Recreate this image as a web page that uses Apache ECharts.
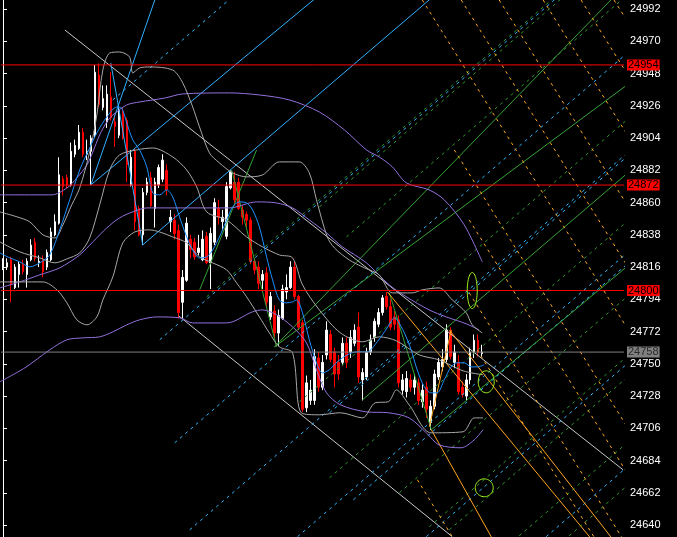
<!DOCTYPE html>
<html><head><meta charset="utf-8">
<script src="https://cdn.jsdelivr.net/npm/echarts@6/dist/echarts.min.js"></script>
<style>html,body{margin:0;padding:0;background:#000;}#c{width:677px;height:537px;}</style>
</head><body><div id="c"></div>
<script>
// ---- price ticks / levels ----
const priceTicks = [24640,24662,24684,24706,24728,24750,24772,24794,24816,24838,24860,24882,24904,24926,24948,24970,24992];
const redLevels = [24954, 24872, 24800];
const bidLevel = 24758;

// ---- candles (open, close, low, high) ----
const opens  = [24816,24816,24821,24802,24811,24818,24811,24821,24833,24819,24821,24816,24821,24838,24846,24876,24877,24872,24893,24897,24908,24893,24895,24906,24947,24925,24915,24932,24915,24906,24922,24916,24872,24895,24856,24838,24867,24877,24856,24872,24876,24882,24847,24848,24841,24792,24807,24835,24833,24826,24821,24837,24819,24833,24856,24847,24837,24870,24874,24874,24855,24852,24848,24820,24816,24807,24812,24782,24786,24771,24781,24799,24802,24816,24796,24778,24720,24725,24725,24754,24734,24756,24770,24758,24751,24751,24764,24758,24764,24775,24739,24741,24758,24768,24777,24785,24796,24789,24782,24780,24732,24731,24739,24734,24737,24724,24734,24710,24721,24741,24748,24753,24772,24751,24751,24734,24728,24739,24758,24766,24757];
const closes = [24820,24819,24804,24816,24818,24813,24820,24831,24822,24820,24813,24826,24840,24847,24879,24871,24872,24895,24899,24908,24893,24895,24904,24949,24927,24931,24934,24918,24912,24923,24904,24886,24891,24847,24838,24867,24874,24858,24874,24884,24889,24869,24850,24839,24785,24809,24846,24828,24823,24829,24835,24819,24839,24860,24850,24850,24871,24881,24862,24856,24850,24848,24820,24814,24805,24811,24792,24796,24771,24783,24801,24802,24816,24796,24775,24719,24737,24732,24755,24734,24751,24773,24753,24743,24743,24764,24751,24768,24773,24741,24744,24758,24766,24779,24785,24795,24789,24775,24777,24737,24739,24740,24734,24739,24725,24732,24719,24721,24743,24751,24753,24773,24755,24758,24731,24729,24739,24758,24766,24758,24758];
const lows   = [24814,24814,24792,24801,24802,24811,24802,24820,24820,24816,24809,24814,24820,24837,24845,24865,24870,24871,24891,24896,24891,24889,24872,24904,24925,24923,24911,24916,24898,24904,24903,24874,24871,24841,24837,24831,24865,24857,24843,24870,24874,24865,24840,24835,24781,24781,24806,24822,24821,24824,24820,24818,24801,24831,24845,24841,24835,24869,24858,24855,24845,24843,24818,24811,24801,24801,24788,24780,24768,24762,24780,24794,24801,24794,24773,24717,24717,24722,24722,24731,24732,24753,24751,24734,24739,24749,24747,24754,24762,24737,24725,24739,24756,24765,24775,24783,24787,24773,24773,24734,24729,24727,24731,24729,24722,24720,24713,24705,24719,24739,24745,24751,24753,24747,24729,24727,24725,24736,24754,24755,24755];
const highs  = [24822,24822,24823,24818,24820,24821,24822,24835,24836,24824,24824,24828,24843,24852,24891,24878,24879,24901,24903,24913,24911,24903,24906,24954,24955,24940,24940,24949,24920,24927,24925,24918,24896,24897,24858,24870,24877,24881,24877,24886,24893,24886,24855,24852,24845,24814,24850,24838,24836,24838,24841,24840,24843,24863,24862,24855,24874,24882,24881,24877,24858,24854,24850,24822,24820,24814,24816,24799,24790,24787,24804,24811,24820,24820,24797,24780,24742,24739,24760,24758,24756,24779,24773,24761,24756,24768,24768,24773,24777,24785,24747,24761,24770,24781,24788,24797,24799,24794,24786,24783,24743,24745,24743,24743,24740,24736,24738,24725,24746,24754,24760,24777,24775,24763,24756,24738,24743,24761,24770,24770,24763];

// ---- indicator curves: [bar, price] ----
const blueMA = [[-0.8,24825.7],[1.7,24822.3],[4.2,24819.6],[6.7,24816.2],[9.2,24818.9],[11.7,24824.3],[14.2,24841.4],[16.7,24861.9],[19.2,24882.3],[21.7,24897.3],[23.5,24907.6],[26,24918.5],[28.5,24925.3],[29.7,24924.6],[31,24914.4],[32.5,24902.8],[34.2,24896],[36,24884.4],[37.5,24866.6],[39.2,24865.3],[41,24868.7],[42.5,24863.9],[44.2,24850.3],[46,24836.6],[47.5,24827.7],[49.2,24822.3],[51,24823],[52.5,24827.7],[54.2,24836.6],[56,24848.2],[57.5,24857.1],[59.2,24860.5],[61,24859.8],[62.5,24855],[64.2,24843.4],[66,24823],[67.5,24807.3],[69.2,24793.6],[71,24791.6],[72.5,24792.3],[73.5,24793.6],[75,24784.8],[76.7,24766.4],[78.5,24750.7],[80,24743.8],[81.7,24745.9],[83.7,24751.3],[86.2,24756.1],[88.7,24758.2],[91.2,24758.2],[93.7,24765],[96.2,24774.5],[98,24781.4],[98.7,24780],[100.5,24771.1],[102.2,24759.5],[103.7,24745.9],[105.5,24734.3],[107.2,24730.2],[108.7,24730.2],[110.5,24739.1],[112.2,24747.9],[113.7,24750.7],[115.5,24750.7],[117.2,24747.9],[118.7,24747.9],[120.5,24749.3]];
const bandUpper = [[-0.8,24853.7],[3.5,24850.3],[6.7,24846.9],[10,24838],[13,24835.9],[15,24844.8],[17.2,24858.4],[19.2,24870],[21.7,24894.6],[23.5,24919.8],[25,24950.5],[26.7,24962.1],[29.2,24962.8],[31.7,24959.4],[32.5,24948.5],[34.2,24951.9],[36.7,24952.6],[42.5,24950.5],[45,24941.7],[47.5,24925.3],[49.2,24911.7],[51.7,24893.9],[54.2,24887.1],[57.5,24880.3],[61,24877.6],[65,24878.9],[69.2,24887.8],[74.2,24887.8],[76.7,24880.3],[78.5,24861.9],[81.2,24836.6],[83,24829.1],[86.7,24820.9],[90.5,24815.5],[94.2,24810.7],[97.5,24798.4],[102.5,24798.4],[105,24800.5],[109.2,24801.8],[112.5,24793.6],[116,24784.8],[117.5,24776.6],[120,24771.1]];
const bandMiddle = [[-0.8,24833.2],[4.2,24826.4],[9.2,24822.3],[13,24818.9],[16,24821.6],[19.2,24825.7],[21.7,24835.9],[24.2,24858.4],[26.7,24882.3],[29.2,24892.6],[33.5,24896],[37.5,24897.3],[42.5,24891.2],[46,24882.3],[48.5,24870.7],[51,24853.7],[56,24848.2],[61,24836.6],[65,24829.8],[69.2,24824.3],[72.5,24822.3],[75,24803.9],[79.2,24786.8],[84.5,24771.1],[90,24765],[94.2,24768.4],[98.5,24765.7],[104.2,24756.1],[109.2,24752.7],[115.2,24745.2],[120.2,24742.5]];
const bandLower = [[-0.8,24805.9],[4.2,24805.9],[10,24805.9],[13.5,24800.5],[16,24791.6],[18.5,24780],[21,24776.6],[23.5,24782],[25,24793.6],[27.5,24809.3],[30,24832.5],[33,24840],[36.7,24841.4],[39.2,24840],[42.5,24836.6],[46,24832.5],[49.2,24823],[52.5,24818.9],[56,24814.1],[58.5,24805.2],[61,24795.7],[64.2,24782],[66.7,24771.1],[69.2,24761.6],[72.5,24757.5],[74.7,24716.5],[79.2,24715.2],[84.5,24716.6],[90,24713.1],[93.2,24723.4],[96.5,24724.1],[98.5,24732.2],[101.7,24722],[107.2,24702.9],[115.2,24703.6],[118,24713.1],[120.2,24713.1]];
const purpleUpper = [[-0.8,24865.3],[12.2,24865.3],[16,24870],[18.5,24876.9],[21,24885.7],[22.5,24894.6],[24.2,24906.2],[26,24915.1],[27.5,24919.8],[31,24926.7],[34.2,24928.7],[40.5,24931.4],[45,24934.2],[56.7,24934.9],[64.2,24933.5],[71.7,24930.1],[79.2,24921.9],[85.5,24909.6],[91,24896],[94.2,24891.2],[97.5,24884.4],[101,24873.5],[106.7,24868.7],[110.5,24861.9],[115.5,24844.8],[120,24819.6]];
const purpleMiddle = [[-0.8,24801.8],[4.2,24805.9],[9.2,24810.7],[14.2,24815.5],[19.2,24824.3],[22.5,24833.2],[26,24842.8],[29.2,24849.6],[32.5,24853.7],[36,24856.4],[40.5,24856.4],[56.7,24856.4],[63.5,24860.5],[68.5,24859.8],[72.5,24856.4],[76.7,24848.2],[81,24839.3],[85,24829.8],[91,24818.9],[96.7,24803.9],[101,24795.7],[106.7,24786.8],[111,24782],[116,24777.3],[119.2,24773.2]];
const purpleLower = [[-0.8,24737.7],[5.5,24747.3],[11.7,24759.5],[16,24766.4],[20,24767.7],[24.2,24768.4],[27.5,24771.8],[31,24776.6],[34.2,24780],[38.5,24782],[44.2,24781.4],[47.5,24777.9],[56,24777.9],[62.5,24785.5],[65,24786.8],[68.5,24783.4],[72.5,24775.2],[76,24764.3],[78.5,24745.9],[81,24730.2],[84.5,24722],[91,24717.2],[96.5,24716.6],[101.7,24713.1],[106,24702.9],[109.2,24694.7],[114.7,24692.7],[118,24698.1],[120.2,24705]];

// ---- drawn objects: [bar0, price0, bar1, price1] ----
const grayTrend = [[15.5,24977.8,155.25,24677.7],[44,24782.7,112.5,24632]];
const cyanSolid = [[22,24872.1,40,25014],[22,24872.1,80,25003.5],[27,24955.3,35,24831.2],[35,24831.2,110,25006]];
const cyanDash = [[27.5,24930.1,60,25006.4],[39.25,24766.4,140,25002.9],[43,24696.1,160,24970.7],[46.75,24636.7,160,24902.5],[73.75,24632,160,24834.4],[87.75,24657.2,160,24826.8],[81.75,24716.5,160,24900.2],[106,24632,160,24758.7],[136,24632,160,24688.3]];
const greenSolid = [[68,24761.6,160,25020.2],[68,24761.6,160,24947.9],[90,24725.4,160,24888.6],[107.25,24705,160,24824.9],[57.25,24882.3,68.5,24761.6],[96.75,24798.4,107.25,24705],[49.25,24800.5,63.5,24896]];
const greenDash = [[51,24795.7,160,25051.5],[74.25,24724.1,160,24925.4],[81.75,24672.2,160,24855.9],[99.25,24662,160,24804.6],[106.75,24638.8,160,24763.8],[111.75,24636.7,160,24749.4],[129.25,24632.6,160,24704.8],[141.75,24632.6,160,24675.4],[79.25,24857.1,160,25046.6],[86,24836.6,160,25010.3]];
const orangeSolid = [[96.25,24799.1,160,24588.6],[107.25,24705,130,24594.3],[111.75,24773.2,160,24604.7],[106.75,24707,112.25,24773.2]];
const orangeDash = [[105,24998.3,165,24736.3],[114.75,24998.3,174.75,24736.3],[124.25,24998.3,184.25,24736.3],[135.25,24998.3,195.25,24736.3],[144.75,24998.3,204.75,24736.3],[153,24998.3,213,24736.3],[113,24896,173,24634],[116.75,24848.2,176.75,24586.2],[116.75,24798.4,176.75,24536.4],[118.75,24759.5,178.75,24497.5],[103.75,24670.9,112.5,24632]];
const ellipses = [[117.5,24800,1.25,12.3],[121,24737.7,2,7.5],[120.5,24665.4,2.25,6.1]];

const NBARS = 156;
const cats = Array.from({length: NBARS}, (_, i) => String(i));
const candleData = opens.map((o, i) => [o, closes[i], lows[i], highs[i]]);

function curve(data, color) {
  return {type:'line', xAxisIndex:1, data, symbol:'none', smooth:0.3, silent:true, clip:true, z:4,
    lineStyle:{color, width:1}};
}
function segs(list, color, dashed) {
  return list.map(s => ({type:'line', xAxisIndex:1, data:[[s[0],s[1]],[s[2],s[3]]], symbol:'none', silent:true, clip:true, z:3,
    lineStyle:{color, width:1, type: dashed ? [3,4] : 'solid'}}));
}
function level(v, lineColor, boxColor, textColor) {
  return {type:'line', xAxisIndex:1, data:[[-0.5, v],[NBARS - 0.5, v]], symbol:'none', silent:true, clip:false, z:5,
    lineStyle:{color:lineColor, width:1, type:'solid'},
    endLabel:{show:true, distance:3, fontSize:11, fontFamily:'Liberation Sans, Arial, sans-serif',
      color:textColor, backgroundColor:boxColor, padding:[0,1,0,1], lineHeight:11, formatter: () => String(v)}};
}

const series = [
  {type:'candlestick', xAxisIndex:0, data:candleData, barWidth:2, z:2, silent:true,
   itemStyle:{color:'#ffffff', color0:'#ff0000', borderColor:'#ffffff', borderColor0:'#ff0000', borderWidth:1}},
  curve(purpleUpper, '#9370db'), curve(purpleMiddle, '#9370db'), curve(purpleLower, '#9370db'),
  curve(bandUpper, '#a8a8a8'), curve(bandMiddle, '#a8a8a8'), curve(bandLower, '#a8a8a8'),
  curve(blueMA, '#1e90ff'),
  ...segs(grayTrend, '#c8c8c8', false),
  ...segs(cyanSolid, '#30b0ff', false),
  ...segs(cyanDash, '#30b8ff', true),
  ...segs(greenSolid, '#36a336', false),
  ...segs(greenDash, '#2f9a2f', true),
  ...segs(orangeSolid, '#ffa520', false),
  ...segs(orangeDash, '#ffaa22', true),
  ...redLevels.map(v => level(v, '#ff0000', '#ff0000', '#000000')),
  level(bidLevel, '#808080', '#808080', '#2a2a2a'),
  {type:'custom', xAxisIndex:1, data:ellipses, silent:true, z:6, clip:false,
   renderItem:(params, api) => {
     const c = api.coord([api.value(0), api.value(1)]);
     const s = api.size([api.value(2), api.value(3)]);
     const pts = [];
     for (let k = 0; k < 48; k++) {
       const a = k / 48 * Math.PI * 2;
       pts.push([c[0] + s[0] * Math.cos(a), c[1] + s[1] * Math.sin(a)]);
     }
     return {type:'polygon', shape:{points:pts}, style:{fill:null, stroke:'#a2f21e', lineWidth:1}};
   }}
];

const chart = echarts.init(document.getElementById('c'), null, {renderer:'canvas'});
chart.setOption({
  backgroundColor:'#000000',
  animation:false,
  grid:{left:1, right:53, top:0, bottom:0, containLabel:false},
  xAxis:[
    {type:'category', data:cats, boundaryGap:true, show:false},
    {type:'value', min:-0.5, max:NBARS-0.5, show:false}
  ],
  yAxis:{type:'value', position:'right', min:24631.8, max:24998.3, scale:true,
    axisLine:{show:true, lineStyle:{color:'#ffffff', width:1}},
    axisTick:{show:true, length:4, customValues:priceTicks, lineStyle:{color:'#ffffff'}},
    axisLabel:{show:true, customValues:priceTicks, margin:6, color:'#ffffff', fontSize:11,
      fontFamily:'Liberation Sans Narrow, Liberation Sans, Arial, sans-serif', formatter: v => String(v)},
    splitLine:{show:false}},
  series
});
</script>
</body></html>
